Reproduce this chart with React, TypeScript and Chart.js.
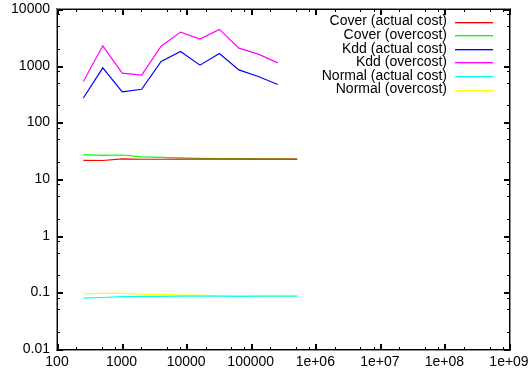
import React, { useEffect, useRef } from "react";
import { Chart, registerables } from "chart.js";

Chart.register(...registerables);

const xCover = [256, 512, 1024, 2048, 4096, 8192, 16384, 32768, 65536, 131072, 262144, 524288];
const xKdd = [256, 512, 1024, 2048, 4096, 8192, 16384, 32768, 65536, 131072, 262144];

const coverActual = [21.3, 21.2, 22.6, 22.3, 22.3, 22.4, 22.4, 22.5, 22.5, 22.5, 22.5, 22.5];
const coverOver = [27, 26.2, 26.5, 24.5, 24, 23.5, 23.2, 23, 22.8, 22.7, 22.6, 22.5];
const kddActual = [269, 914, 344, 384, 1187, 1783, 1021, 1644, 843, 644, 465];
const kddOver = [525, 2240, 737, 679, 2200, 3917, 2944, 4372, 2042, 1599, 1121];
const normalActual = [0.079, 0.081, 0.084, 0.085, 0.085, 0.086, 0.086, 0.086, 0.085, 0.086, 0.086, 0.086];
const normalOver = [0.095, 0.096, 0.096, 0.093, 0.092, 0.089, 0.089, 0.087, 0.086, 0.086, 0.086, 0.086];

const seriesLabels = [
  "Cover (actual cost)",
  "Cover (overcost)",
  "Kdd (actual cost)",
  "Kdd (overcost)",
  "Normal (actual cost)",
  "Normal (overcost)",
];
const seriesColors = ["#ff0000", "#00ff00", "#0000ff", "#ff00ff", "#00ffff", "#ffff00"];

const xTicks = [100, 1000, 10000, 100000, 1e6, 1e7, 1e8, 1e9];
const xTickLabels = ["100", "1000", "10000", "100000", "1e+06", "1e+07", "1e+08", "1e+09"];
const yTicks = [0.01, 0.1, 1, 10, 100, 1000, 10000];
const yTickLabels = ["0.01", "0.1", "1", "10", "100", "1000", "10000"];
const minorFactors = [2, 5, 8];

const FONT = "Liberation Sans, Arial, Helvetica, sans-serif";

function pts(xs: number[], ys: number[]) {
  return xs.map((x, i) => ({ x, y: ys[i] }));
}

function drawFrame(chart: any) {
  const ctx: CanvasRenderingContext2D = chart.ctx;
  const ca = chart.chartArea;
  const L = Math.round(ca.left);
  const R = Math.round(ca.right);
  const T = Math.round(ca.top);
  const B = Math.round(ca.bottom);
  const xs = chart.scales.x;
  const ys = chart.scales.y;
  ctx.save();
  // soft outer half of the border
  ctx.fillStyle = "rgba(0,0,0,0.45)";
  ctx.fillRect(L - 1, T - 1, R - L + 3, 1);
  ctx.fillRect(L - 1, B + 1, R - L + 3, 1);
  ctx.fillRect(L - 1, T - 1, 1, B - T + 3);
  ctx.fillRect(R + 1, T - 1, 1, B - T + 3);
  ctx.fillStyle = "#000000";
  ctx.fillRect(L, T, R - L + 1, 1);
  ctx.fillRect(L, B, R - L + 1, 1);
  ctx.fillRect(L, T, 1, B - T + 1);
  ctx.fillRect(R, T, 1, B - T + 1);
  for (let i = 0; i < xTicks.length; i++) {
    const v = xTicks[i];
    const px = Math.round(xs.getPixelForValue(v));
    ctx.fillRect(px, B - 5, 2, 6);
    ctx.fillRect(px, T, 2, 6);
    if (i < xTicks.length - 1) {
      for (const f of minorFactors) {
        const mx = Math.round(xs.getPixelForValue(v * f));
        ctx.fillRect(mx, B - 2, 1, 3);
        ctx.fillRect(mx, T, 1, 3);
      }
    }
  }
  for (let i = 0; i < yTicks.length; i++) {
    const v = yTicks[i];
    const py = Math.round(ys.getPixelForValue(v));
    ctx.fillRect(L, py, 6, 2);
    ctx.fillRect(R - 5, py, 6, 2);
    if (i < yTicks.length - 1) {
      for (const f of minorFactors) {
        const my = Math.round(ys.getPixelForValue(v * f));
        ctx.fillRect(L, my, 3, 1);
        ctx.fillRect(R - 2, my, 3, 1);
      }
    }
  }
  ctx.font = "14px " + FONT;
  ctx.textAlign = "right";
  ctx.textBaseline = "middle";
  for (let i = 0; i < seriesLabels.length; i++) {
    const y = 21.5 + i * 13.6;
    ctx.fillStyle = "#000000";
    ctx.fillText(seriesLabels[i], 447, y);
    ctx.fillStyle = seriesColors[i];
    ctx.fillRect(455, Math.round(y), 38, 1);
    ctx.globalAlpha = 0.35;
    ctx.fillRect(455, Math.round(y) + 1, 38, 1);
    ctx.globalAlpha = 1;
  }
  ctx.restore();
}

export default function App() {
  const ref = useRef<HTMLCanvasElement | null>(null);
  useEffect(() => {
    if (!ref.current) return;
    const data = [
      pts(xCover, coverActual),
      pts(xCover, coverOver),
      pts(xKdd, kddActual),
      pts(xKdd, kddOver),
      pts(xCover, normalActual),
      pts(xCover, normalOver),
    ];
    const chart = new Chart(ref.current, {
      type: "line",
      data: {
        datasets: data.map((d, i) => ({
          label: seriesLabels[i],
          data: d,
          borderColor: seriesColors[i],
          backgroundColor: seriesColors[i],
          borderWidth: 1.2,
          pointRadius: 0,
          tension: 0,
          fill: false,
        })),
      },
      options: {
        responsive: false,
        animation: false,
        devicePixelRatio: 1,
        layout: { padding: { top: 9, right: 21, bottom: 0, left: 0 } },
        plugins: { legend: { display: false }, tooltip: { enabled: false } },
        scales: {
          x: {
            type: "logarithmic",
            min: 100,
            max: 1e9,
            grid: { display: false, drawTicks: false },
            border: { display: false },
            afterBuildTicks: (s: any) => {
              s.ticks = xTicks.map((v) => ({ value: v }));
            },
            afterFit: (s: any) => {
              s.height = 23;
              s.paddingLeft = 0;
              s.paddingRight = 0;
            },
            ticks: {
              autoSkip: false,
              maxRotation: 0,
              padding: 5,
              color: "#000",
              font: { family: FONT, size: 14 },
              callback: (v: any) => {
                const i = xTicks.findIndex((t) => Math.abs(Math.log10(t) - Math.log10(Number(v))) < 1e-6);
                return i >= 0 ? xTickLabels[i] : "";
              },
            },
          },
          y: {
            type: "logarithmic",
            min: 0.01,
            max: 10000,
            grid: { display: false, drawTicks: false },
            border: { display: false },
            afterBuildTicks: (s: any) => {
              s.ticks = yTicks.map((v) => ({ value: v }));
            },
            afterFit: (s: any) => {
              s.width = 57;
              s.paddingTop = 0;
              s.paddingBottom = 0;
            },
            ticks: {
              autoSkip: false,
              padding: 7,
              color: "#000",
              font: { family: FONT, size: 14 },
              callback: (v: any) => {
                const i = yTicks.findIndex((t) => Math.abs(Math.log10(t) - Math.log10(Number(v))) < 1e-6);
                return i >= 0 ? yTickLabels[i] : "";
              },
            },
          },
        },
      },
      plugins: [{ id: "gpframe", afterDraw: (c: any) => drawFrame(c) }],
    } as any);
    return () => chart.destroy();
  }, []);
  return (
    <div style={{ position: "absolute", left: 0, top: 0, width: 530, height: 372, background: "#fff" }}>
      <canvas ref={ref} width={530} height={372} />
    </div>
  );
}
